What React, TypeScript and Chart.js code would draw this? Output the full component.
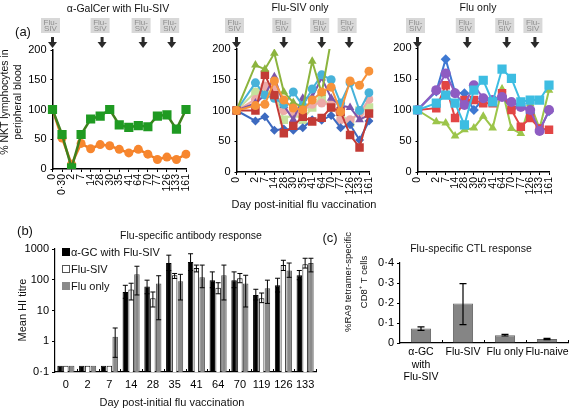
import React, { useEffect, useRef } from 'react';
import { Chart, registerables } from 'chart.js';

Chart.register(...registerables);

const FONT = '"Liberation Sans", Arial, Helvetica, sans-serif';
Chart.defaults.font.family = FONT;
Chart.defaults.color = '#000';

// ---------------- Panel (a) ----------------
const nktLabelsAGC = ['0', '0·30', '2', '7', '14', '28', '30', '35', '41', '64', '70', '77', '126', '133', '161'];
const nktLabels = ['0', '', '2', '7', '14', '28', '30', '35', '41', '64', '70', '77', '126', '133', '161'];

// α-GalCer with Flu-SIV
const agcGreen = [100, 58, 2, 58, 84, 89, 100, 74, 70, 73, 71, 89, 91, 67, 100];
const agcOrange = [100, 52, 8, 43, 34, 41, 39, 33, 27, 33, 25, 16, 20, 16, 25];

// Flu-SIV only
const sivBlue = [100, null, 83, 90, 68, 70, 68, 72, 85, 84, 92, 72, 77, 52, 83];
const sivRed = [100, null, 100, 158, 125, 63, 75, 90, 82, 88, 105, 98, 60, 40, 95];
const sivGreen = [100, null, 174, 167, 193, 130, 113, 105, 180, 128, 215, null, null, null, null];
const sivPurple = [100, null, 112, 125, 155, 108, 85, 120, 122, 153, 120, 108, 105, 85, 93];
const sivCyan = [100, null, 145, 125, 120, 110, 130, 108, 135, 158, 150, 112, 145, 100, 129];
const sivOrange = [100, null, 108, 110, 148, 117, 104, 101, 117, 130, 138, 98, 148, 141, 164];
const sivPink = [100, null, 118, 140, 135, 100, 95, 100, 110, 112, 110, 85, 85, 95, 118];
const sivLightGreen = [100, null, 130, 130, 130, 85, 95, 85, 105, 122, 105, 95, 80, 100, 105];

// Flu only
const fluBlue = [100, null, 130, 182, 128, 127, 100, 118, 113, 122, 102, 110, 95, 68, 98];
const fluRed = [100, null, 103, 140, 87, 116, 116, 111, 111, 127, 100, 73, 87, 70, 68];
const fluGreen = [100, null, 81, 79, 58, 68, 71, 90, 71, 134, 70, 62, 110, 70, 132];
const fluPurple = [100, null, 132, 159, 127, 108, 140, 119, 116, 121, 113, 105, 100, 66, 100];
const fluCyan = [100, null, 111, 124, 111, 76, 132, 148, 113, 166, 151, 113, 116, 116, 140];

const nktTicks = [0, 50, 100, 150, 200];
const vaccArrowsAGC = [0, 5.2, 9.5, 12.5];
const vaccArrowsSIV = [0, 5, 9, 11.9];
const vaccArrowsFlu = [0, 5.3, 9.5, 12.5];

// ---------------- Panel (b) ----------------
const hiDays = ['0', '2', '7', '14', '28', '35', '41', '64', '70', '119', '126', '133'];
const hiAGC = [0.16, 0.16, 0.16, 40, 60, 350, 380, 97, 97, 32, 66, 140];
const hiAGCLow = [null, null, null, 25, 35, 200, 200, 55, 55, 22, 40, 100];
const hiAGCHigh = [null, null, null, 66, 97, 630, 700, 180, 180, 49, 112, 200];
const hiSIV = [0.16, 0.16, 0.16, 48, 25, 140, 240, 55, 112, 25, 300, 320];
const hiSIVLow = [null, null, null, 22, 13, 110, 180, 35, 80, 18, 200, 240];
const hiSIVHigh = [null, null, null, 77, 40, 160, 300, 80, 160, 37, 430, 500];
const hiFlu = [0.16, 0.16, 1.4, 150, 75, 90, 120, 140, 75, 53, 200, 350];
const hiFluLow = [null, null, 0.3, 32, 5, 22, 55, 22, 13, 17, 120, 180];
const hiFluHigh = [null, null, 2.7, 275, 135, 150, 300, 300, 140, 97, 350, 500];
const hiTicks = [0.1, 1, 10, 100, 1000];

// ---------------- Panel (c) ----------------
const ctlGroups = [['α-GC', 'with', 'Flu-SIV'], 'Flu-SIV', 'Flu only', 'Flu-naive'];
const ctlMean = [0.072, 0.197, 0.039, 0.02];
const ctlLow = [0.063, 0.092, 0.035, 0.017];
const ctlHigh = [0.081, 0.297, 0.043, 0.023];
const ctlTicks = [0, 0.1, 0.2, 0.3, 0.4];

const dotFmt = (v: number) => (v === 0 ? '0' : String(v).replace('.', '·'));

const decorPlugin = {
  id: 'decor',
  afterDatasetsDraw(chart: any, _args: any, opts: any) {
    const ctx = chart.ctx;
    const o = opts || {};
    chart.data.datasets.forEach((ds: any, di: number) => {
      if (!ds.errHigh) return;
      const meta = chart.getDatasetMeta(di);
      const ys = chart.scales[meta.yAxisID];
      meta.data.forEach((el: any, i: number) => {
        const hi = ds.errHigh[i];
        const lo = ds.errLow ? ds.errLow[i] : null;
        if (hi == null) return;
        const x = el.x;
        const yH = ys.getPixelForValue(hi);
        const yL = ys.getPixelForValue(lo != null ? lo : ds.data[i]);
        const c = o.capHalf || 3;
        ctx.save();
        ctx.strokeStyle = '#000';
        ctx.lineWidth = o.errWidth || 1;
        ctx.beginPath();
        ctx.moveTo(x, yH);
        ctx.lineTo(x, yL);
        ctx.moveTo(x - c, yH);
        ctx.lineTo(x + c, yH);
        if (lo != null) {
          ctx.moveTo(x - c, yL);
          ctx.lineTo(x + c, yL);
        }
        ctx.stroke();
        ctx.restore();
      });
    });
    if (o.boundaryTicks) {
      const xs = chart.scales.x;
      const n = chart.data.labels.length;
      const b = chart.chartArea.bottom;
      ctx.save();
      ctx.strokeStyle = '#000';
      ctx.lineWidth = 1;
      ctx.beginPath();
      for (let i = 1; i <= n; i++) {
        const x = Math.round(xs.getPixelForValue(i - 0.5)) + 0.5;
        ctx.moveTo(x, b);
        ctx.lineTo(x, b - 3);
      }
      ctx.stroke();
      ctx.restore();
    }
  },
  afterDraw(chart: any, _args: any, opts: any) {
    const o = opts || {};
    if (!o.arrows) return;
    const ctx = chart.ctx;
    const xs = chart.scales.x;
    o.arrows.forEach((idx: number) => {
      const x = xs.getPixelForValue(idx);
      ctx.save();
      ctx.fillStyle = '#d8d8d8';
      ctx.fillRect(x - 11.5, 18, 19, 15);
      ctx.fillStyle = '#8e8e8e';
      ctx.font = `8px ${FONT}`;
      ctx.textAlign = 'center';
      ctx.textBaseline = 'middle';
      ctx.fillText('Flu-', x - 2, 22.5);
      ctx.fillText('SIV', x - 2, 29);
      ctx.fillStyle = '#2a2a2a';
      ctx.fillRect(x - 1.5, 37, 3, 6);
      ctx.beginPath();
      ctx.moveTo(x - 4.5, 42);
      ctx.lineTo(x + 4.5, 42);
      ctx.lineTo(x, 48);
      ctx.closePath();
      ctx.fill();
      ctx.restore();
    });
  },
};
Chart.register(decorPlugin);

function lineDs(data: (number | null)[], color: string, style: string, radius: number, line?: string, width = 2) {
  return {
    data,
    borderColor: line || color,
    backgroundColor: color,
    pointBackgroundColor: color,
    pointBorderColor: color,
    pointBorderWidth: 0,
    pointStyle: style,
    pointRadius: radius,
    borderWidth: width,
    tension: 0,
    spanGaps: true,
  };
}

function lineConfig(labels: string[], datasets: any[], arrows: number[], padTop: number, padRight: number, yW: number, xH: number) {
  return {
    type: 'line',
    data: { labels, datasets },
    options: {
      animation: false,
      responsive: false,
      layout: { padding: { top: padTop, right: padRight, left: 0, bottom: 0 } },
      plugins: { legend: { display: false }, tooltip: { enabled: false }, decor: { arrows } },
      scales: {
        x: {
          type: 'category',
          offset: false,
          border: { display: true, color: '#000', width: 1.5 },
          grid: { display: true, drawOnChartArea: false, drawTicks: true, tickLength: 3, color: '#000' },
          ticks: { autoSkip: false, maxRotation: 90, minRotation: 90, padding: 2, font: { size: 10.5 }, color: '#000' },
          afterFit: (s: any) => { s.height = xH; s.paddingLeft = 0; s.paddingRight = 0; },
        },
        y: {
          min: 0,
          max: 200,
          border: { display: true, color: '#000', width: 1.5 },
          grid: { display: true, drawOnChartArea: false, drawTicks: true, tickLength: 2, color: '#000' },
          afterBuildTicks: (s: any) => { s.ticks = nktTicks.map((v) => ({ value: v })); },
          ticks: { padding: 4, font: { size: 11 }, color: '#000' },
          afterFit: (s: any) => { s.width = yW; s.paddingTop = 0; s.paddingBottom = 0; },
        },
      },
    },
  };
}

const cfgAGC = () =>
  lineConfig(nktLabelsAGC, [
    lineDs(agcGreen, '#1f9a22', 'rect', 6.5, '#3f7f1c', 2.5),
    lineDs(agcOrange, '#f7862e', 'circle', 4.5, '#f07d24', 2.5),
  ], vaccArrowsAGC, 50, 9, 52.5, 36);

const cfgSIV = () =>
  lineConfig(nktLabels, [
    lineDs(sivOrange, '#f7923a', 'circle', 4.5),
    lineDs(sivGreen, '#8cb43e', 'triangle', 5),
    lineDs(sivRed, '#c33b36', 'rect', 6),
    lineDs(sivCyan, '#47b2d9', 'circle', 4.5),
    lineDs(sivPurple, '#7c55aa', 'triangle', 5),
    lineDs(sivBlue, '#3d6ac0', 'rectRot', 4.5),
    lineDs(sivPink, '#ecaaa8', 'circle', 4.5),
    lineDs(sivLightGreen, '#c6e29c', 'rect', 6),
  ], vaccArrowsSIV, 49, 5, 41.5, 33);

const cfgFlu = () =>
  lineConfig(nktLabels, [
    lineDs(fluCyan, '#3dbde2', 'rect', 6.5),
    lineDs(fluPurple, '#8e5cc2', 'circle', 5),
    lineDs(fluRed, '#e24545', 'rect', 6),
    lineDs(fluBlue, '#3e78d2', 'rectRot', 5),
    lineDs(fluGreen, '#9cc54a', 'triangle', 5),
  ], vaccArrowsFlu, 48, 11, 42.5, 33);

const cfgHI = () => ({
  type: 'bar',
  data: {
    labels: hiDays,
    datasets: [
      { label: 'α-GC with Flu-SIV', data: hiAGC, backgroundColor: '#000', borderColor: '#000', borderWidth: 1, errLow: hiAGCLow, errHigh: hiAGCHigh },
      { label: 'Flu-SIV', data: hiSIV, backgroundColor: '#fff', borderColor: '#111', borderWidth: 1, errLow: hiSIVLow, errHigh: hiSIVHigh },
      { label: 'Flu only', data: hiFlu, backgroundColor: '#8a8a8a', borderColor: '#555', borderWidth: 1, errLow: hiFluLow, errHigh: hiFluHigh },
    ],
  },
  options: {
    animation: false,
    responsive: false,
    layout: { padding: { top: 34, right: 9, left: 0, bottom: 0 } },
    datasets: { bar: { categoryPercentage: 0.8, barPercentage: 0.95 } },
    plugins: { legend: { display: false }, tooltip: { enabled: false }, decor: { boundaryTicks: true, capHalf: 2.5 } },
    scales: {
      x: {
        offset: true,
        border: { display: true, color: '#000', width: 1.2 },
        grid: { display: false, drawTicks: false, tickLength: 0 },
        ticks: { autoSkip: false, maxRotation: 0, minRotation: 0, padding: 6, font: { size: 11 }, color: '#000' },
        afterFit: (s: any) => { s.height = 37; s.paddingLeft = 0; s.paddingRight = 0; },
      },
      y: {
        type: 'logarithmic',
        min: 0.1,
        max: 1000,
        border: { display: true, color: '#000', width: 1.2 },
        grid: { display: true, drawOnChartArea: false, drawTicks: true, tickLength: 3, color: '#000' },
        afterBuildTicks: (s: any) => { s.ticks = hiTicks.map((v) => ({ value: v })); },
        ticks: { padding: 3, font: { size: 11 }, color: '#000', callback: (v: any) => dotFmt(Number(v)) },
        afterFit: (s: any) => { s.width = 55; s.paddingTop = 0; s.paddingBottom = 0; },
      },
    },
  },
});

const cfgCTL = () => ({
  type: 'bar',
  data: {
    labels: ctlGroups,
    datasets: [
      { data: ctlMean, backgroundColor: '#858585', borderColor: '#666', borderWidth: 1, errLow: ctlLow, errHigh: ctlHigh },
    ],
  },
  options: {
    animation: false,
    responsive: false,
    layout: { padding: { top: 48, right: 6, left: 0, bottom: 0 } },
    datasets: { bar: { categoryPercentage: 1, barPercentage: 0.48 } },
    plugins: { legend: { display: false }, tooltip: { enabled: false }, decor: { boundaryTicks: true, capHalf: 3.5, errWidth: 1.2 } },
    scales: {
      x: {
        offset: true,
        border: { display: true, color: '#000', width: 1.2 },
        grid: { display: false, drawTicks: false, tickLength: 0 },
        ticks: { autoSkip: false, maxRotation: 0, minRotation: 0, padding: 3, font: { size: 10.5 }, color: '#000' },
        afterFit: (s: any) => { s.height = 66; s.paddingLeft = 0; s.paddingRight = 0; },
      },
      y: {
        min: 0,
        max: 0.4,
        border: { display: true, color: '#000', width: 1.2 },
        grid: { display: true, drawOnChartArea: false, drawTicks: true, tickLength: 3, color: '#000' },
        afterBuildTicks: (s: any) => { s.ticks = ctlTicks.map((v) => ({ value: v })); },
        ticks: { padding: 3, font: { size: 11 }, color: '#000', callback: (v: any) => dotFmt(Number(v)) },
        afterFit: (s: any) => { s.width = 35; s.paddingTop = 0; s.paddingBottom = 0; },
      },
    },
  },
});

function ChartBox({ left, top, width, height, make }: { left: number; top: number; width: number; height: number; make: () => any }) {
  const ref = useRef<HTMLCanvasElement>(null);
  useEffect(() => {
    const chart = new Chart(ref.current as HTMLCanvasElement, make());
    return () => chart.destroy();
  }, []);
  return <canvas ref={ref} width={width} height={height} style={{ position: 'absolute', left, top, width, height }} />;
}

function Txt({ x, y, size = 11, rotate = false, lh, left = false, children }: { x: number; y: number; size?: number; rotate?: boolean; lh?: number; left?: boolean; children: React.ReactNode }) {
  return (
    <div
      style={{
        position: 'absolute',
        left: x,
        top: y,
        transform: `translate(${left ? '0' : '-50%'},-50%)${rotate ? ' rotate(-90deg)' : ''}`,
        fontSize: size,
        lineHeight: lh ? `${lh}px` : 'normal',
        whiteSpace: 'nowrap',
        textAlign: 'center',
        color: '#111',
      }}
    >
      {children}
    </div>
  );
}

function Swatch({ fill, border }: { fill: string; border: string }) {
  return <span style={{ display: 'inline-block', width: 6, height: 6, background: fill, border: `1px solid ${border}`, marginRight: 1, verticalAlign: 'middle', position: 'relative', top: -1 }} />;
}

export default function App() {
  return (
    <div style={{ position: 'absolute', left: 0, top: 0, width: 574, height: 409, background: '#fff', fontFamily: FONT, overflow: 'hidden' }}>
      <ChartBox left={0} top={0} width={195} height={205} make={cfgAGC} />
      <ChartBox left={195} top={0} width={180} height={205} make={cfgSIV} />
      <ChartBox left={375} top={0} width={185} height={205} make={cfgFlu} />
      <ChartBox left={0} top={215} width={325} height={194} make={cfgHI} />
      <ChartBox left={365} top={215} width={209} height={194} make={cfgCTL} />

      <Txt x={118} y={8} size={10.5}>α-GalCer with Flu-SIV</Txt>
      <Txt x={300} y={7} size={10.5}>Flu-SIV only</Txt>
      <Txt x={478} y={7} size={10.5}>Flu only</Txt>
      <Txt x={23} y={31} size={13}>(a)</Txt>
      <Txt x={11} y={102} size={10.5} rotate lh={13}>
        % NKT lymphocytes in<br />peripheral blood
      </Txt>
      <Txt x={304} y={204} size={11}>Day post-initial flu vaccination</Txt>

      <Txt x={25} y={230} size={13}>(b)</Txt>
      <Txt x={191} y={235} size={10.5}>Flu-specific antibody response</Txt>
      <Txt x={22} y={310} size={11} rotate>Mean HI titre</Txt>
      <Txt x={62} y={252} size={11} left><Swatch fill="#000" border="#000" />α-GC with Flu-SIV</Txt>
      <Txt x={62} y={269} size={11} left><Swatch fill="#fff" border="#555" />Flu-SIV</Txt>
      <Txt x={62} y={286} size={11} left><Swatch fill="#8a8a8a" border="#8a8a8a" />Flu only</Txt>
      <Txt x={172} y={402} size={11}>Day post-initial flu vaccination</Txt>

      <Txt x={330} y={237} size={13}>(c)</Txt>
      <Txt x={471} y={248} size={10.5}>Flu-specific CTL response</Txt>
      <Txt x={356} y={282} size={9.5} rotate lh={12}>
        %RA9 tetramer-specific<br />CD8<sup style={{ fontSize: 6 }}>+</sup> T cells
      </Txt>
    </div>
  );
}
